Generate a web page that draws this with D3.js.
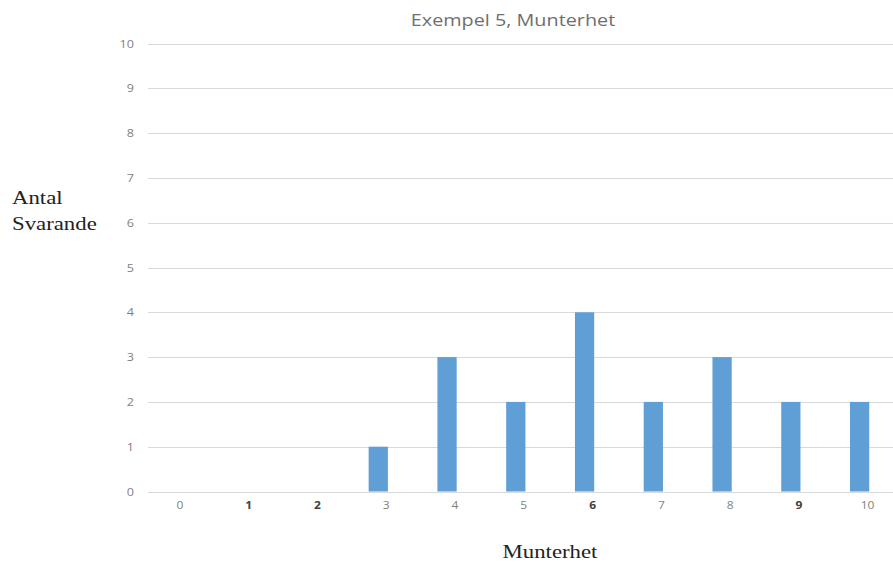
<!DOCTYPE html>
<html>
<head>
<meta charset="utf-8">
<script src="https://cdn.jsdelivr.net/npm/d3@7"></script>
<style>
  html, body { margin: 0; padding: 0; background: #fff; }
  svg { display: block; }
</style>
</head>
<body>
<svg id="chart" width="893" height="565"></svg>
<script>
// Munterhet scores and how many respondents gave each
const categories = ["0", "1", "2", "3", "4", "5", "6", "7", "8", "9", "10"];
const counts = [0, 0, 0, 1, 3, 2, 4, 2, 3, 2, 2];
const yTicks = [0, 1, 2, 3, 4, 5, 6, 7, 8, 9, 10];
const titleText = "Exempel 5, Munterhet";
const xTitle = "Munterhet";
const yTitleLines = ["Antal", "Svarande"];

const svg = d3.select("#chart");
const stretch = 1.2; // text is drawn slightly wide

const x = d3.scaleBand()
  .domain(categories)
  .range([137.6, 894])
  .paddingInner(0.72)
  .paddingOuter(0.36);

const y = d3.scaleLinear()
  .domain([0, 10])
  .range([491.5, 43.5]);

const gridLeft = 148, gridRight = 893;

// place a text node at (px, py) with horizontal stretch
function place(px, py) {
  return `translate(${px},${py}) scale(${stretch},1)`;
}

// horizontal gridlines
svg.append("g")
  .selectAll("line")
  .data(yTicks)
  .join("line")
  .attr("x1", gridLeft)
  .attr("x2", gridRight)
  .attr("y1", d => Math.round(y(d)) + 0.5)
  .attr("y2", d => Math.round(y(d)) + 0.5)
  .attr("stroke", "#d9d9d9")
  .attr("stroke-width", 1);

// y tick labels
svg.append("g")
  .selectAll("text")
  .data(yTicks)
  .join("text")
  .attr("transform", d => place(134, y(d) + 4))
  .attr("text-anchor", "end")
  .attr("font-family", "'Open Sans', sans-serif")
  .attr("font-size", 10.5)
  .attr("fill", "#7f7f7f")
  .text(d => d);

// bars
svg.append("g")
  .selectAll("rect")
  .data(categories.map((c, i) => ({ c, v: counts[i] })))
  .join("rect")
  .attr("x", d => x(d.c))
  .attr("width", x.bandwidth())
  .attr("y", d => y(d.v))
  .attr("height", d => y(0) - y(d.v))
  .attr("fill", "#5f9fd6");

// x tick labels, set slightly right of each bar
const bold = new Set(["1", "2", "6", "9"]);
svg.append("g")
  .selectAll("text")
  .data(categories)
  .join("text")
  .attr("transform", d => place(x(d) + x.bandwidth() / 2 + 8, 509))
  .attr("text-anchor", "middle")
  .attr("font-family", "'Open Sans', sans-serif")
  .attr("font-size", 10)
  .attr("font-weight", d => bold.has(d) ? "bold" : "normal")
  .attr("fill", d => bold.has(d) ? "#404040" : "#7f7f7f")
  .text(d => d);

// chart title
svg.append("text")
  .attr("transform", place(513, 26))
  .attr("text-anchor", "middle")
  .attr("font-family", "'Open Sans', sans-serif")
  .attr("font-size", 16.5)
  .attr("fill", "#6f6f6f")
  .text(titleText);

// axis titles
svg.append("text")
  .attr("transform", place(550, 558))
  .attr("text-anchor", "middle")
  .attr("font-family", "'Liberation Serif', 'Times New Roman', serif")
  .attr("font-size", 19)
  .attr("fill", "#222")
  .text(xTitle);

svg.append("g")
  .selectAll("text")
  .data(yTitleLines)
  .join("text")
  .attr("transform", (d, i) => place(12, 204 + i * 26))
  .attr("font-family", "'Liberation Serif', 'Times New Roman', serif")
  .attr("font-size", 19)
  .attr("fill", "#222")
  .text(d => d);
</script>
</body>
</html>
